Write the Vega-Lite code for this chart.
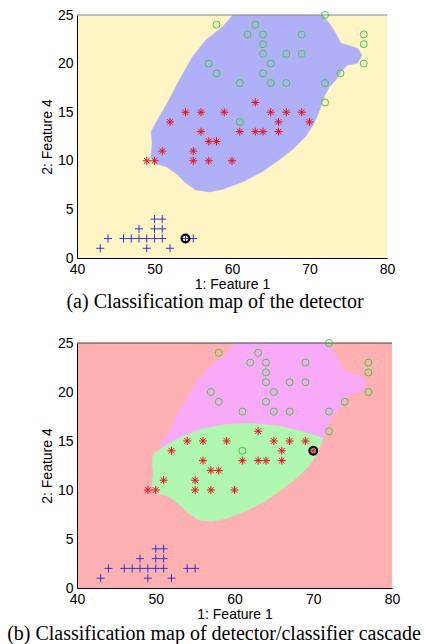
{
  "$schema": "https://vega.github.io/schema/vega-lite/v6.json",
  "background": "white",
  "padding": {"left": 7, "top": 8, "right": 2, "bottom": 0},
  "spacing": 24,
  "config": {
    "view": {"stroke": null},
    "axis": {
      "labelFont": "Liberation Sans", "labelFontSize": 14, "labelColor": "black",
      "titleFont": "Liberation Sans", "titleFontSize": 14, "titleFontWeight": "normal", "titleColor": "black",
      "domainColor": "black", "ticks": false, "grid": false, "labelFlush": false, "labelPadding": 4
    },
    "title": {"font": "Liberation Serif", "fontSize": 20, "fontWeight": "normal", "color": "black", "orient": "bottom", "anchor": "middle", "frame": "group"}
  },
  "datasets": {
    "blob": [
      {"i": 1, "x": 60.1, "y": 25}, {"i": 2, "x": 71.7, "y": 25}, {"i": 3, "x": 72.6, "y": 24.1}, {"i": 4, "x": 73.4, "y": 23.1},
      {"i": 5, "x": 74.06, "y": 22.09}, {"i": 6, "x": 76.2, "y": 21.57}, {"i": 7, "x": 76.77, "y": 20.88}, {"i": 8, "x": 76.2, "y": 20.03},
      {"i": 9, "x": 74.9, "y": 19.86}, {"i": 10, "x": 74.06, "y": 19.17}, {"i": 11, "x": 73.4, "y": 18.3}, {"i": 12, "x": 72.55, "y": 17.6},
      {"i": 13, "x": 71.9, "y": 16.6}, {"i": 14, "x": 71.3, "y": 15.2}, {"i": 15, "x": 70.6, "y": 13.9}, {"i": 16, "x": 69.5, "y": 12.5},
      {"i": 17, "x": 68.0, "y": 11.3}, {"i": 18, "x": 66.1, "y": 10.1}, {"i": 19, "x": 63.95, "y": 8.9}, {"i": 20, "x": 61.4, "y": 7.85},
      {"i": 21, "x": 58.8, "y": 7.07}, {"i": 22, "x": 57.07, "y": 6.8}, {"i": 23, "x": 55.35, "y": 7.0}, {"i": 24, "x": 54.06, "y": 7.7},
      {"i": 25, "x": 52.8, "y": 8.7}, {"i": 26, "x": 51.5, "y": 9.4}, {"i": 27, "x": 49.97, "y": 9.74}, {"i": 28, "x": 49.55, "y": 10.4},
      {"i": 29, "x": 49.7, "y": 11.8}, {"i": 30, "x": 49.55, "y": 13.0}, {"i": 31, "x": 50.6, "y": 14.5}, {"i": 32, "x": 51.9, "y": 16.3},
      {"i": 33, "x": 53.2, "y": 18.3}, {"i": 34, "x": 54.9, "y": 20.7}, {"i": 35, "x": 56.6, "y": 22.4}, {"i": 36, "x": 58.8, "y": 23.8}
    ],
    "green": [
      {"i": 1, "x": 49.7, "y": 13.7}, {"i": 2, "x": 50.7, "y": 14.2}, {"i": 3, "x": 52.4, "y": 15.1}, {"i": 4, "x": 55.7, "y": 16.2},
      {"i": 5, "x": 59.1, "y": 16.7}, {"i": 6, "x": 62.1, "y": 16.8}, {"i": 7, "x": 65.9, "y": 16.5}, {"i": 8, "x": 69.3, "y": 15.8},
      {"i": 9, "x": 71.2, "y": 15.3}, {"i": 10, "x": 70.6, "y": 13.9}, {"i": 11, "x": 69.5, "y": 12.5}, {"i": 12, "x": 68.0, "y": 11.3},
      {"i": 13, "x": 66.1, "y": 10.1}, {"i": 14, "x": 63.95, "y": 8.9}, {"i": 15, "x": 61.4, "y": 7.85}, {"i": 16, "x": 58.8, "y": 7.07},
      {"i": 17, "x": 57.07, "y": 6.8}, {"i": 18, "x": 55.35, "y": 7.0}, {"i": 19, "x": 54.06, "y": 7.7}, {"i": 20, "x": 52.8, "y": 8.7},
      {"i": 21, "x": 51.5, "y": 9.4}, {"i": 22, "x": 49.97, "y": 9.74}, {"i": 23, "x": 49.55, "y": 10.4}, {"i": 24, "x": 49.7, "y": 11.8},
      {"i": 25, "x": 49.55, "y": 13.0}
    ],
    "pts": [
      {"x": 43, "y": 1, "c": "s"}, {"x": 44, "y": 2, "c": "s"}, {"x": 46, "y": 2, "c": "s"}, {"x": 47, "y": 2, "c": "s"},
      {"x": 48, "y": 2, "c": "s"}, {"x": 49, "y": 2, "c": "s"}, {"x": 50, "y": 2, "c": "s"}, {"x": 51, "y": 2, "c": "s"},
      {"x": 48, "y": 3, "c": "s"}, {"x": 50, "y": 3, "c": "s"}, {"x": 51, "y": 3, "c": "s"}, {"x": 50, "y": 4, "c": "s"},
      {"x": 51, "y": 4, "c": "s"}, {"x": 49, "y": 1, "c": "s"}, {"x": 52, "y": 1, "c": "s"}, {"x": 54, "y": 2, "c": "s"},
      {"x": 55, "y": 2, "c": "s"},
      {"x": 49, "y": 10, "c": "v"}, {"x": 50, "y": 10, "c": "v"}, {"x": 51, "y": 11, "c": "v"}, {"x": 52, "y": 14, "c": "v"},
      {"x": 54, "y": 15, "c": "v"}, {"x": 56, "y": 15, "c": "v"}, {"x": 56, "y": 13, "c": "v"}, {"x": 57, "y": 12, "c": "v"},
      {"x": 58, "y": 12, "c": "v"}, {"x": 55, "y": 11, "c": "v"}, {"x": 55, "y": 10, "c": "v"}, {"x": 57, "y": 10, "c": "v"},
      {"x": 59, "y": 15, "c": "v"}, {"x": 60, "y": 10, "c": "v"}, {"x": 61, "y": 13, "c": "v"}, {"x": 63, "y": 16, "c": "v"},
      {"x": 63, "y": 13, "c": "v"}, {"x": 64, "y": 13, "c": "v"}, {"x": 65, "y": 15, "c": "v"}, {"x": 66, "y": 14, "c": "v"},
      {"x": 66, "y": 13, "c": "v"}, {"x": 67, "y": 15, "c": "v"}, {"x": 69, "y": 15, "c": "v"}, {"x": 70, "y": 14, "c": "v"},
      {"x": 58, "y": 24, "c": "g"}, {"x": 63, "y": 24, "c": "g"}, {"x": 62, "y": 23, "c": "g"}, {"x": 64, "y": 23, "c": "g"},
      {"x": 69, "y": 23, "c": "g"}, {"x": 72, "y": 25, "c": "g"}, {"x": 77, "y": 23, "c": "g"}, {"x": 77, "y": 22, "c": "g"},
      {"x": 64, "y": 22, "c": "g"}, {"x": 64, "y": 21, "c": "g"}, {"x": 67, "y": 21, "c": "g"}, {"x": 69, "y": 21, "c": "g"},
      {"x": 57, "y": 20, "c": "g"}, {"x": 65, "y": 20, "c": "g"}, {"x": 77, "y": 20, "c": "g"}, {"x": 58, "y": 19, "c": "g"},
      {"x": 64, "y": 19, "c": "g"}, {"x": 74, "y": 19, "c": "g"}, {"x": 61, "y": 18, "c": "g"}, {"x": 65, "y": 18, "c": "g"},
      {"x": 67, "y": 18, "c": "g"}, {"x": 72, "y": 18, "c": "g"}, {"x": 72, "y": 16, "c": "g"}, {"x": 61, "y": 14, "c": "g"}
    ],
    "sel": [
      {"panel": "a", "x": 54, "y": 2},
      {"panel": "b", "x": 70, "y": 14}
    ]
  },
  "vconcat": [
    {
      "width": 310, "height": 243,
      "view": {"fill": "#FFF5C4", "stroke": null},
      "title": {"text": "(a) Classification map of the detector", "offset": 1, "dx": -17},
      "encoding": {
        "x": {"field": "x", "type": "quantitative", "scale": {"domain": [40, 80], "nice": false, "zero": false}, "axis": {"title": "1: Feature 1", "values": [40, 50, 60, 70, 80], "titlePadding": 1}},
        "y": {"field": "y", "type": "quantitative", "scale": {"domain": [0, 25], "nice": false, "zero": false}, "axis": {"title": "2: Feature 4", "values": [0, 5, 10, 15, 20, 25], "titlePadding": 3}}
      },
      "layer": [
        {"data": {"name": "blob"}, "mark": {"type": "line", "interpolate": "linear-closed", "fill": "#B0B0F8", "stroke": "#B0B0F8", "strokeWidth": 0.5}, "encoding": {"order": {"field": "i", "type": "quantitative"}}},
        {"data": {"name": "sel"}, "transform": [{"filter": "datum.panel == 'a'"}], "mark": {"type": "rule", "color": "#888888", "strokeWidth": 1}, "encoding": {"x": null, "y": {"datum": 25, "type": "quantitative"}}},
        {"data": {"name": "pts"}, "transform": [{"filter": "datum.c != 'g'"}], "mark": {"type": "point", "filled": false, "size": 64, "strokeWidth": 1, "opacity": 1},
          "encoding": {
            "shape": {"field": "c", "type": "nominal", "scale": {"domain": ["s", "v"], "range": ["M-1,0L1,0M0,-1L0,1", "M-1,0L1,0M0,-1L0,1M-0.7,-0.7L0.7,0.7M-0.7,0.7L0.7,-0.7"]}, "legend": null},
            "color": {"field": "c", "type": "nominal", "scale": {"domain": ["s", "v"], "range": ["#3535D0", "#E8101E"]}, "legend": null}
          }},
        {"data": {"name": "pts"}, "transform": [{"filter": "datum.c == 'g'"}], "mark": {"type": "point", "shape": "circle", "filled": false, "size": 49, "strokeWidth": 1, "color": "#3FCC3F", "opacity": 1}},
        {"data": {"name": "sel"}, "transform": [{"filter": "datum.panel == 'a'"}], "mark": {"type": "point", "shape": "circle", "filled": false, "size": 60, "strokeWidth": 2.2, "color": "black", "opacity": 1}}
      ]
    },
    {
      "width": 315, "height": 245,
      "view": {"fill": "#FFB0B0", "stroke": null},
      "title": {"text": "(b) Classification map of detector/classifier cascade", "offset": 3, "dx": -20.5},
      "encoding": {
        "x": {"field": "x", "type": "quantitative", "scale": {"domain": [40, 80], "nice": false, "zero": false}, "axis": {"title": "1: Feature 1", "values": [40, 50, 60, 70, 80], "titlePadding": 1}},
        "y": {"field": "y", "type": "quantitative", "scale": {"domain": [0, 25], "nice": false, "zero": false}, "axis": {"title": "2: Feature 4", "values": [0, 5, 10, 15, 20, 25], "titlePadding": 3}}
      },
      "layer": [
        {"data": {"name": "blob"}, "mark": {"type": "line", "interpolate": "linear-closed", "fill": "#F8AAF8", "stroke": "#F8AAF8", "strokeWidth": 0.5}, "encoding": {"order": {"field": "i", "type": "quantitative"}}},
        {"data": {"name": "green"}, "mark": {"type": "line", "interpolate": "linear-closed", "fill": "#B0F8B0", "stroke": "#B0F8B0", "strokeWidth": 0.5}, "encoding": {"order": {"field": "i", "type": "quantitative"}}},
        {"data": {"name": "sel"}, "transform": [{"filter": "datum.panel == 'b'"}], "mark": {"type": "rule", "color": "#444444", "strokeWidth": 1}, "encoding": {"x": null, "y": {"datum": 25, "type": "quantitative"}}},
        {"data": {"name": "pts"}, "transform": [{"filter": "datum.c != 'g'"}], "mark": {"type": "point", "filled": false, "size": 64, "strokeWidth": 1, "opacity": 1},
          "encoding": {
            "shape": {"field": "c", "type": "nominal", "scale": {"domain": ["s", "v"], "range": ["M-1,0L1,0M0,-1L0,1", "M-1,0L1,0M0,-1L0,1M-0.7,-0.7L0.7,0.7M-0.7,0.7L0.7,-0.7"]}, "legend": null},
            "color": {"field": "c", "type": "nominal", "scale": {"domain": ["s", "v"], "range": ["#3535D0", "#E8101E"]}, "legend": null}
          }},
        {"data": {"name": "pts"}, "transform": [{"filter": "datum.c == 'g'"}], "mark": {"type": "point", "shape": "circle", "filled": false, "size": 49, "strokeWidth": 1, "color": "#3FCC3F", "opacity": 1}},
        {"data": {"name": "sel"}, "transform": [{"filter": "datum.panel == 'b'"}], "mark": {"type": "point", "shape": "circle", "filled": false, "size": 60, "strokeWidth": 2.2, "color": "black", "opacity": 1}}
      ]
    }
  ],
  "resolve": {"scale": {"color": "independent", "shape": "independent"}}
}
